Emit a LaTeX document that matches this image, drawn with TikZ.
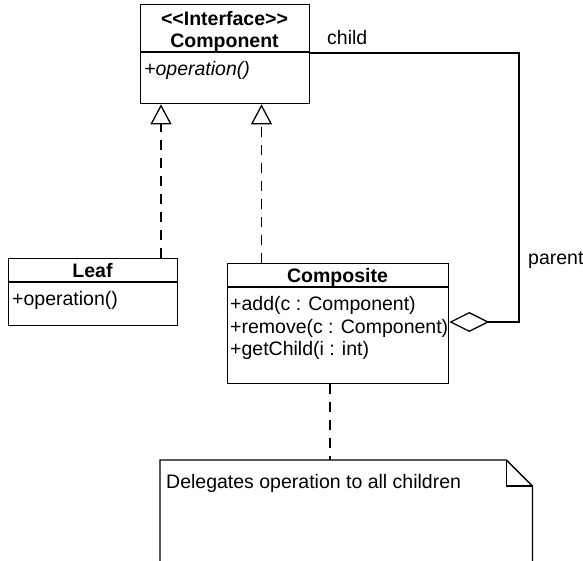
\documentclass[tikz,border=0pt]{standalone}
\usepackage{fontspec}
\setmainfont{Liberation Sans}
\usetikzlibrary{arrows.meta}
\begin{document}
\begin{tikzpicture}[x=1pt,y=-1pt,
  box/.style={draw, line width=1.3pt, inner sep=0pt, anchor=north west},
  txt/.style={inner sep=0pt, font=\fontsize{19.5}{22}\selectfont},
  btxt/.style={txt, font=\fontsize{19.5}{22}\selectfont\bfseries, anchor=base},
  mtxt/.style={txt, anchor=base west},
  divider/.style={line width=1.3pt},
  realize/.style={line width=1.3pt, dash pattern=on 10pt off 8pt,
    -{Triangle[open, length=20pt, width=21pt, line width=1.3pt]}},
  aggr/.style={line width=1.1pt,
    -{Diamond[open, length=40pt, width=20pt, line width=1.3pt]}},
  notelink/.style={line width=1.3pt, dash pattern=on 10pt off 8pt},
  noteshape/.style={line width=1.3pt}]
\clip (0,0) rectangle (583,560);
% Component
\node[box, minimum width=169pt, minimum height=99pt] (comp) at (140,4) {};
\draw[divider] (comp.west |- 0,52) -- (comp.east |- 0,52);
\node[btxt] (stereo) at (224.5,25) {<\kern0pt<Interface>\kern0pt>};
\node[btxt] (compname) at (224.5,47) {Component};
\node[mtxt, font=\fontsize{19.5}{22}\selectfont\itshape] (compop) at (144,75) {+operation()};
% Leaf
\node[box, minimum width=169pt, minimum height=67pt] (leaf) at (8,258) {};
\draw[divider] (leaf.west |- 0,282) -- (leaf.east |- 0,282);
\node[btxt] (leafname) at (92.5,277) {Leaf};
\node[mtxt] (leafop) at (12,305) {+operation()};
% Composite
\node[box, minimum width=221pt, minimum height=120pt] (compo) at (227,263) {};
\draw[divider] (compo.west |- 0,287) -- (compo.east |- 0,287);
\node[btxt] (componame) at (337.5,282) {Composite};
\node[mtxt] (add) at (230,310) {+add(c : Component)};
\node[mtxt] (rem) at (230,333) {+remove(c : Component)};
\node[mtxt] (get) at (230,355) {+getChild(i : int)};
% realizations
\coordinate (r1) at (161,0);
\coordinate (r2) at (261.5,0);
\draw[realize] (leaf.north -| r1) -- (comp.south -| r1);
\draw[realize] (compo.north -| r2) -- (comp.south -| r2);
% aggregation
\coordinate (corner) at (519,322);
\draw[aggr] (comp.east |- 0,53) -| (corner) -- (compo.east |- corner);
\node[mtxt] (child) at (327,44) {child};
\node[mtxt] (parent) at (528,264) {parent};
% note
\node[inner sep=0pt, anchor=north west, minimum width=372pt, minimum height=130pt] (note) at (160,460) {};
\draw[noteshape] (note.north west) -- ([xshift=-26pt]note.north east) -- ([yshift=-26pt]note.north east) -- (note.south east) -- (note.south west) -- cycle;
\draw[noteshape] ([xshift=-26pt]note.north east) -- ([xshift=-26pt,yshift=-26pt]note.north east) -- ([yshift=-26pt]note.north east);
\node[mtxt] (notetext) at (166,488) {Delegates operation to all children};
\coordinate (nl) at (330,0);
\draw[notelink] (compo.south -| nl) -- (note.north -| nl);
\end{tikzpicture}
\end{document}
